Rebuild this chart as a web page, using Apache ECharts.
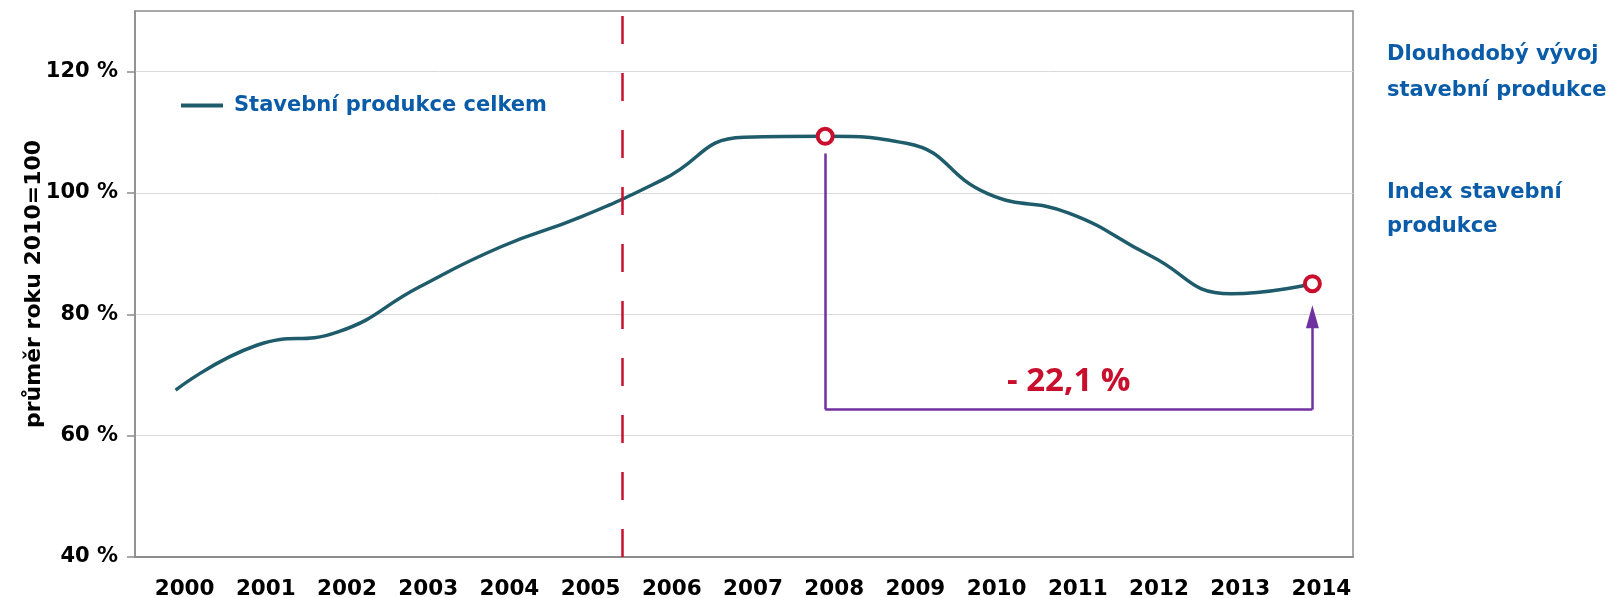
<!DOCTYPE html>
<html>
<head>
<meta charset="utf-8">
<title>Stavební produkce</title>
<script src="https://cdn.jsdelivr.net/npm/echarts@6.0.0/dist/echarts.min.js"></script>
<style>
html,body{margin:0;padding:0;background:#fff;}
#chart{width:1614px;height:598px;}
</style>
</head>
<body>
<div id="chart"></div>
<script>
// roky na ose x
var years = ['2000','2001','2002','2003','2004','2005','2006','2007','2008','2009','2010','2011','2012','2013','2014'];
// index stavebni produkce (prumer roku 2010=100)
var production = [67.5, 74.9, 77.1, 84.5, 91.1, 96.1, 102.2, 109.2, 109.35, 108.2, 99.9, 96.7, 89.7, 83.4, 85.05];
var yTicks = [40, 60, 80, 100, 120];
// zvyraznene body a sipka poklesu
var highlightYears = ['2008', '2014'];
var dropLabel = '- 22,1 %';
var bracketTop = 106.5;
var bracketBase = 64.3;
var arrowEnd = 79.6;
var splitBefore = '2006'; // svisla cara pred timto rokem
var seriesName = 'Stavební produkce celkem';
var sideTitle = 'Dlouhodobý vývoj\nstavební produkce';
var sideSub = 'Index stavební\nprodukce';

var FONT = 'DejaVu Sans';
var BLUE = '#0b5ca8';
var RED = '#c8102e';
var PURPLE = '#7030a0';
var GRAY = '#8c8c8c';

var highlightData = [];
for (var i = 0; i < highlightYears.length; i++) {
    var idx = years.indexOf(highlightYears[i]);
    highlightData.push([years[idx], production[idx]]);
}

var myChart = echarts.init(document.getElementById('chart'), null, {renderer: 'canvas'});
var option = {
    animation: false,
    backgroundColor: '#fff',
    grid: {
        left: 135,
        top: 11,
        right: 261,
        bottom: 41,
        show: true,
        borderColor: GRAY,
        borderWidth: 1.5,
        containLabel: false,
        outerBoundsMode: 'none'
    },
    legend: {
        data: [seriesName],
        icon: 'rect',
        left: 176,
        top: 90,
        itemWidth: 42,
        itemHeight: 4,
        textStyle: {
            color: BLUE,
            fontFamily: FONT,
            fontWeight: 'bold',
            fontSize: 21,
            padding: [0, 0, 0, 6]
        }
    },
    xAxis: [
        {
            type: 'category',
            data: years,
            boundaryGap: true,
            axisLine: {lineStyle: {color: GRAY, width: 2}},
            axisTick: {length: 8, lineStyle: {color: GRAY, width: 1.5}},
            axisLabel: {
                color: '#000',
                fontFamily: FONT,
                fontWeight: 'bold',
                fontSize: 21.5,
                margin: 21,
                padding: [0, 0, 0, 18],
                interval: 0
            }
        },
        {
            // pomocna osa pro svislou caru mezi kategoriemi
            type: 'value',
            min: 0,
            max: years.length,
            show: false
        }
    ],
    yAxis: {
        type: 'value',
        min: 40,
        max: 130,
        interval: 20,
        name: 'průměr roku 2010=100',
        nameLocation: 'middle',
        nameGap: 90,
        nameMoveOverlap: false,
        nameTextStyle: {
            color: '#000',
            fontFamily: FONT,
            fontWeight: 'bold',
            fontSize: 22
        },
        axisLine: {show: true, lineStyle: {color: GRAY, width: 1.5}},
        axisTick: {show: true, length: 8, customValues: yTicks, lineStyle: {color: GRAY, width: 1.5}},
        axisLabel: {
            customValues: yTicks,
            color: '#000',
            fontFamily: FONT,
            fontWeight: 'bold',
            fontSize: 21,
            margin: 17,
            formatter: function (v) {
                return v > 120 ? '' : v + ' %';
            }
        },
        splitLine: {lineStyle: {color: '#d9d9d9', width: 1}}
    },
    graphic: [
        {
            type: 'text',
            left: 1387,
            top: 37,
            style: {
                text: sideTitle,
                fill: BLUE,
                font: 'bold 21px "DejaVu Sans"',
                lineHeight: 36
            }
        },
        {
            type: 'text',
            left: 1387,
            top: 176,
            style: {
                text: sideSub,
                fill: BLUE,
                font: 'bold 21px "DejaVu Sans"',
                lineHeight: 34
            }
        }
    ],
    series: [
        {
            name: seriesName,
            type: 'line',
            data: production,
            smooth: 0.5,
            symbol: 'none',
            z: 3,
            lineStyle: {color: '#1f5c6b', width: 3.5},
            itemStyle: {color: '#1f5c6b'},
            markLine: {
                silent: true,
                symbol: ['none', 'none'],
                label: {show: false},
                lineStyle: {color: PURPLE, width: 2.5, type: 'solid'},
                data: [
                    // sipka 2008 -> 2014
                    [
                        {coord: [highlightYears[0], bracketTop]},
                        {coord: [highlightYears[0], bracketBase]}
                    ],
                    [
                        {
                            coord: [highlightYears[0], bracketBase],
                            label: {
                                show: true,
                                position: 'middle',
                                formatter: dropLabel,
                                color: RED,
                                fontFamily: 'Open Sans',
                                fontWeight: 'bold',
                                fontSize: 33,
                                distance: 11
                            }
                        },
                        {coord: [highlightYears[1], bracketBase]}
                    ],
                    [
                        {coord: [highlightYears[1], bracketBase]},
                        {coord: [highlightYears[1], arrowEnd], symbol: 'triangle', symbolSize: [13, 23]}
                    ]
                ]
            }
        },
        {
            name: 'predel',
            type: 'line',
            xAxisIndex: 1,
            data: [],
            markLine: {
                silent: true,
                symbol: ['none', 'none'],
                label: {show: false},
                lineStyle: {color: RED, width: 2.5, type: [28, 29]},
                data: [{xAxis: years.indexOf(splitBefore)}]
            }
        },
        {
            name: 'body',
            type: 'scatter',
            data: highlightData,
            symbol: 'circle',
            symbolSize: 15,
            z: 5,
            itemStyle: {color: '#fff', borderColor: RED, borderWidth: 4, opacity: 1}
        }
    ]
};
myChart.setOption(option);
</script>
</body>
</html>
